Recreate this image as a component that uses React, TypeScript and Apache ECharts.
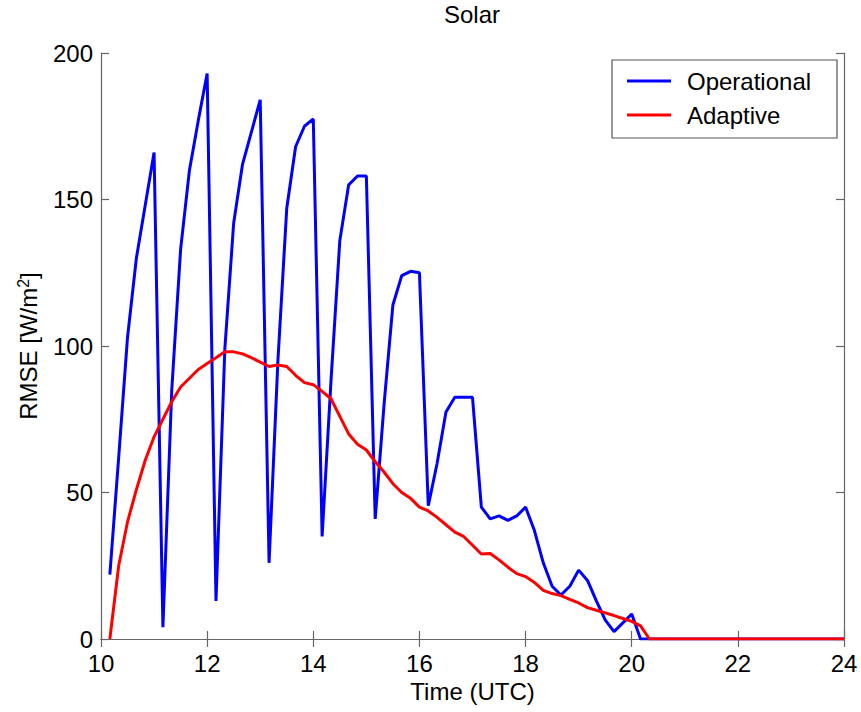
import React, { useEffect, useRef } from "react";
import * as echarts from "echarts";

const times = [
  "10:10","10:20","10:30","10:40","10:50","11:00",
  "11:10","11:20","11:30","11:40","11:50","12:00",
  "12:10","12:20","12:30","12:40","12:50","13:00",
  "13:10","13:20","13:30","13:40","13:50","14:00",
  "14:10","14:20","14:30","14:40","14:50","15:00",
  "15:10","15:20","15:30","15:40","15:50","16:00",
  "16:10","16:20","16:30","16:40","16:50","17:00",
  "17:10","17:20","17:30","17:40","17:50","18:00",
  "18:10","18:20","18:30","18:40","18:50","19:00",
  "19:10","19:20","19:30","19:40","19:50","20:00",
  "20:10","20:20","20:30","20:40","20:50","21:00",
  "21:10","21:20","21:30","21:40","21:50","22:00",
  "22:10","22:20","22:30","22:40","22:50","23:00",
  "23:10","23:20","23:30","23:40","23:50","24:00",
];

const operational = [
  22, 62, 103, 130, 148, 166,
  4, 85, 133, 160, 177, 193,
  13, 99, 142, 162, 173, 184,
  26, 95, 147, 168, 175, 177.5,
  35, 88, 136, 155, 158, 158,
  41, 80, 114, 124, 125.5, 125,
  45.5, 60, 77.5, 82.5, 82.5, 82.5,
  45, 41, 42, 40.5, 42, 45,
  37, 26, 18, 15, 18, 23.5,
  20, 13, 6.5, 2.5, 5.5, 8.5,
  0, 0, 0, 0, 0, 0,
  0, 0, 0, 0, 0, 0,
  0, 0, 0, 0, 0, 0,
  0, 0, 0, 0, 0, 0,
];

const adaptive = [
  0, 25, 40, 51, 61, 69,
  75, 81, 86, 89, 92, 94,
  96, 98, 98, 97.3, 96, 94.5,
  93, 93.5, 93, 90, 87.5, 86.8,
  84.5, 82, 76, 70, 66.5, 64.5,
  60.5, 57, 53, 50, 48, 45,
  43.7, 41.5, 39, 36.5, 35, 32,
  29, 29.2, 27, 24.5, 22.3, 21.3,
  19.3, 16.6, 15.5, 14.8, 13.5, 12.3,
  10.7, 9.8, 8.9, 8, 7, 6,
  4.5, 0, 0, 0, 0, 0,
  0, 0, 0, 0, 0, 0,
  0, 0, 0, 0, 0, 0,
  0, 0, 0, 0, 0, 0,
];

const seriesNames = ["Operational", "Adaptive"];
const seriesColors = ["#0000ff", "#ff0000"];
const xTicks = { min: 10, max: 24, interval: 2 };
const yTicks = { min: 0, max: 200, interval: 50 };

const toHours = (t: string) => {
  const [h, m] = t.split(":").map(Number);
  return h + m / 60;
};

const FONT = "'Liberation Sans', Arial, Helvetica, sans-serif";

export default function App() {
  const ref = useRef<HTMLDivElement>(null);
  useEffect(() => {
    if (!ref.current) return;
    const chart = echarts.init(ref.current, undefined, { renderer: "svg" });
    const xs = times.map(toHours);
    const axisLine = { show: true, lineStyle: { color: "#666", width: 1.2 } };
    const tick = { show: true, inside: true, length: 8, lineStyle: { color: "#666", width: 1.2 } };
    chart.setOption({
      animation: false,
      backgroundColor: "#fff",
      textStyle: { fontFamily: FONT },
      title: {
        text: "Solar",
        left: 472,
        top: 2,
        textAlign: "center",
        padding: 0,
        textStyle: { fontFamily: FONT, fontSize: 24, fontWeight: "normal", color: "#000" },
      },
      grid: { left: 101, right: 17, top: 53, bottom: 73, containLabel: false },
      legend: {
        data: seriesNames.map((n) => ({ name: n, icon: "rect" })),
        orient: "vertical",
        left: 627,
        top: 69,
        padding: 0,
        itemWidth: 44,
        itemHeight: 3,
        itemGap: 10,
        z: 20,
        textStyle: { fontFamily: FONT, fontSize: 24, color: "#000", padding: [0, 0, 0, 11] },
      },
      graphic: [
        {
          type: "rect",
          shape: { x: 612, y: 60, width: 225, height: 78 },
          style: { fill: "#fff", stroke: "#555", lineWidth: 1.2 },
          z: 10,
        },
      ],
      xAxis: [
        {
          type: "value",
          min: xTicks.min,
          max: xTicks.max,
          interval: xTicks.interval,
          axisLine,
          axisTick: tick,
          splitLine: { show: false },
          axisLabel: { fontFamily: FONT, fontSize: 24, color: "#000", margin: 12 },
          name: "Time (UTC)",
          nameLocation: "middle",
          nameGap: 40,
          nameTextStyle: { fontFamily: FONT, fontSize: 24, color: "#000" },
        },
        {
          type: "value",
          position: "top",
          min: xTicks.min,
          max: xTicks.max,
          interval: xTicks.interval,
          axisLine,
          axisTick: tick,
          splitLine: { show: false },
          axisLabel: { show: false },
        },
      ],
      yAxis: [
        {
          type: "value",
          min: yTicks.min,
          max: yTicks.max,
          interval: yTicks.interval,
          axisLine,
          axisTick: tick,
          splitLine: { show: false },
          axisLabel: { fontFamily: FONT, fontSize: 24, color: "#000", margin: 8 },
          name: "{a|RMSE [W/m}{s|2}{a|]}",
          nameLocation: "middle",
          nameGap: 60,
          nameTextStyle: {
            fontFamily: FONT,
            fontSize: 24,
            color: "#000",
            rich: {
              a: { fontFamily: FONT, fontSize: 24, color: "#000" },
              s: { fontFamily: FONT, fontSize: 16, color: "#000", verticalAlign: "top", padding: [0, 0, 10, 0] },
            },
          },
        },
        {
          type: "value",
          position: "right",
          min: yTicks.min,
          max: yTicks.max,
          interval: yTicks.interval,
          axisLine,
          axisTick: tick,
          splitLine: { show: false },
          axisLabel: { show: false },
        },
      ],
      series: [
        {
          name: seriesNames[0],
          type: "line",
          data: xs.map((x, i) => [x, operational[i]]),
          showSymbol: false,
          symbol: "none",
          lineStyle: { color: seriesColors[0], width: 3 },
          itemStyle: { color: seriesColors[0] },
          z: 3,
        },
        {
          name: seriesNames[1],
          type: "line",
          data: xs.map((x, i) => [x, adaptive[i]]),
          showSymbol: false,
          symbol: "none",
          lineStyle: { color: seriesColors[1], width: 3 },
          itemStyle: { color: seriesColors[1] },
          z: 4,
        },
      ],
    });
    return () => chart.dispose();
  }, []);
  return (
    <div
      ref={ref}
      style={{ position: "fixed", left: 0, top: 0, width: 861, height: 712, background: "#fff" }}
    />
  );
}
